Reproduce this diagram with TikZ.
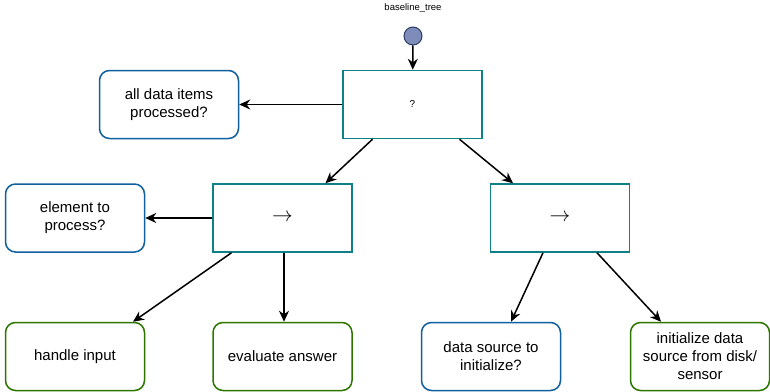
\documentclass[tikz,border=0pt]{standalone}
\usepackage{fontspec}
\setmainfont{Liberation Sans}
\usetikzlibrary{arrows.meta}
\definecolor{ctrlcol}{HTML}{0E8088}
\definecolor{condcol}{HTML}{10609E}
\definecolor{actcol}{HTML}{2D7600}
\definecolor{rootfill}{HTML}{7D8CB8}
\definecolor{rootline}{HTML}{2E3C63}
\begin{document}
\begin{tikzpicture}[x=1pt,y=-1pt,
	box/.style={draw,line width=1.5pt,minimum width=139pt,minimum height=68pt,inner sep=0pt,align=center,font=\fontsize{15}{18}\selectfont},
	ctrl/.style={box,draw=ctrlcol},
	cond/.style={box,draw=condcol,rounded corners=10pt},
	act/.style={box,draw=actcol,rounded corners=10pt},
	arr/.style={-{Stealth[length=11pt,width=10pt]},line width=1.5pt}]
	\useasboundingbox (0,0) rectangle (770,391);

	\node[font=\fontsize{9.5}{11}\selectfont] at (413,8) (title) {baseline\_tree};
	\node[circle,draw=rootline,fill=rootfill,line width=1pt,minimum size=18pt,inner sep=0pt] at (413,36) (start) {};

	\node[ctrl,font=\fontsize{10}{11}\selectfont] at (412.5,104.5) (root) {?};
	\node[cond] at (169,104.5) (alldone) {all data items\\processed?};

	\node[ctrl,font=\fontsize{20}{21}\selectfont] at (282.5,218) (seq1) {$\rightarrow$};
	\node[cond] at (75,218) (element) {element to\\process?};
	\node[ctrl,font=\fontsize{20}{21}\selectfont] at (560,218) (seq2) {$\rightarrow$};

	\node[act] at (75,356.5) (handle) {handle input};
	\node[act] at (282.5,356.5) (evaluate) {evaluate answer};
	\node[cond] at (491,356.5) (source) {data source to\\initialize?};
	\node[act] at (700,356.5) (init) {initialize data\\source from disk/\\sensor};

	\draw[arr] (start) -- (root);
	\draw[arr] (root) -- (alldone);
	\draw[arr] ([xshift=-40]root.south) -- ([xshift=43]seq1.north);
	\draw[arr] ([xshift=47]root.south) -- ([xshift=-47]seq2.north);
	\draw[arr] (seq1) -- (element);
	\draw[arr] ([xshift=-51]seq1.south) -- ([xshift=58]handle.north);
	\draw[arr] ([xshift=1.5]seq1.south) -- ([xshift=1.5]evaluate.north);
	\draw[arr] ([xshift=-17]seq2.south) -- ([xshift=20]source.north);
	\draw[arr] ([xshift=37]seq2.south) -- ([xshift=-39]init.north);
\end{tikzpicture}
\end{document}
